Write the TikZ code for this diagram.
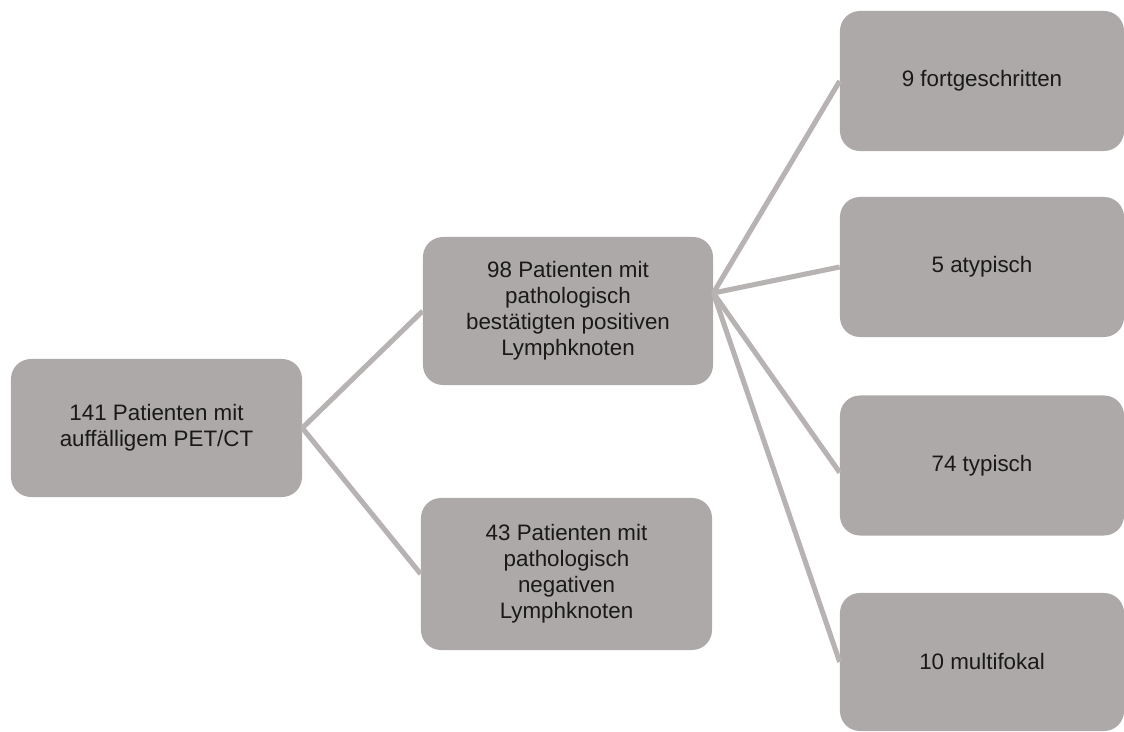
\documentclass[tikz,border=0pt]{standalone}
\usepackage{fontspec}
\usepackage{tikz}
\usetikzlibrary{calc}
\newfontfamily\boxfont{Liberation Sans}
\definecolor{BoxGray}{RGB}{173,169,168}
\definecolor{LinkGray}{RGB}{182,179,178}
\definecolor{TextGray}{RGB}{25,25,25}

\begin{document}
\begin{tikzpicture}[x=0.025cm,y=0.025cm,
  gbox/.style={fill=BoxGray,rounded corners=0.5cm,align=center,inner sep=0pt,
    text=TextGray,font=\boxfont\fontsize{15.9}{18.4}\selectfont},
  link/.style={LinkGray,line width=3.6pt}]
\useasboundingbox (0,0) rectangle (1124,731);
\node[gbox,minimum width=7.275cm,minimum height=3.45cm] (all) at (156.5,303) {141 Patienten mit\\auffälligem PET/CT};
\node[gbox,minimum width=7.25cm,minimum height=3.7cm] (pos) at (568,420) {98 Patienten mit\\pathologisch\\bestätigten positiven\\Lymphknoten};
\node[gbox,minimum width=7.275cm,minimum height=3.8cm] (neg) at (566.5,157) {43 Patienten mit\\pathologisch\\negativen\\Lymphknoten};
\node[gbox,minimum width=7.1cm,minimum height=3.5cm] (adv) at (982,650) {9 fortgeschritten};
\node[gbox,minimum width=7.1cm,minimum height=3.5cm] (atyp) at (982,464) {5 atypisch};
\node[gbox,minimum width=7.1cm,minimum height=3.5cm] (typ) at (982,265.5) {74 typisch};
\node[gbox,minimum width=7.1cm,minimum height=3.45cm] (multi) at (982,69) {10 multifokal};
\coordinate (hub) at ($(pos.east)+(0,18)$);
\draw[link] (all.east) -- (pos.west);
\draw[link] (all.east) -- (neg.west);
\draw[link] (hub) -- (adv.west);
\draw[link] (hub) -- (atyp.west);
\draw[link] (hub) -- ($(typ.west)+(0,-7)$);
\draw[link] (hub) -- (multi.west);
\end{tikzpicture}
\end{document}
